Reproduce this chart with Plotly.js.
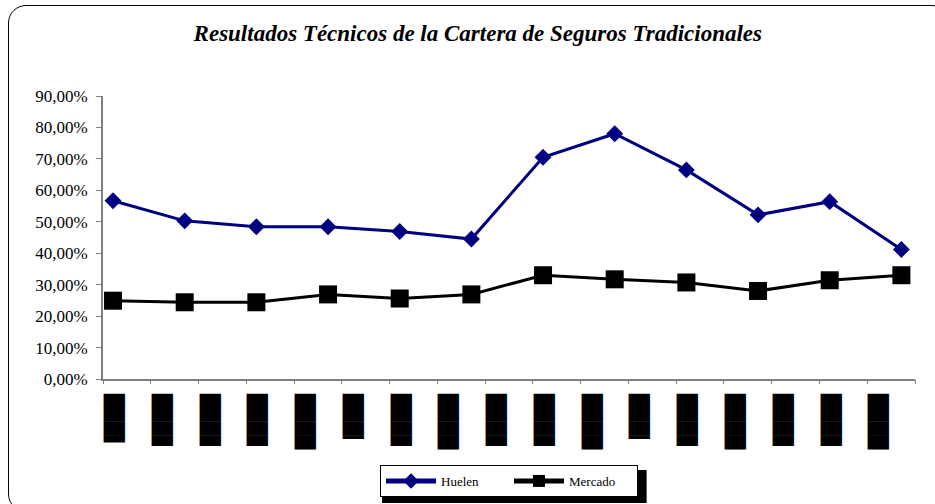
<!DOCTYPE html>
<html>
<head>
<meta charset="utf-8">
<script src="https://cdn.plot.ly/plotly-3.0.1.min.js"></script>
<style>
html,body{margin:0;padding:0;width:935px;height:504px;overflow:hidden;background:#fff;}
#chart{position:absolute;left:0;top:0;width:935px;height:504px;}
#frame{position:absolute;left:8px;top:5px;width:940px;height:505px;border:1px solid #000;border-radius:18px;pointer-events:none;z-index:5;}
</style>
</head>
<body>
<div id="chart"></div>
<div id="frame"></div>
<script>
// Data (percent)
const periods = ['1','2','3','4','5','6','7','8','9','10','11','12'];
const huelen  = [56.7, 50.3, 48.4, 48.4, 46.9, 44.5, 70.5, 78.0, 66.5, 52.2, 56.4, 41.2];
const mercado = [24.9, 24.4, 24.4, 26.9, 25.6, 26.9, 33.0, 31.7, 30.7, 28.0, 31.4, 33.0];
// Redacted (black-box) axis labels
const labelIds = ['c1','c2','c3','c4','c5','c6','c7','c8','c9','c10','c11','c12','c13','c14','c15','c16','c17'];
const boxLabels = ['███▌','███▊','███▊','███▊','████','███▎','███▊','████','███▊','███▊','████','███▎','███▊','████','███▊','███▊','████'];
const yTicks = [0,10,20,30,40,50,60,70,80,90];
const yTickText = yTicks.map(v => v.toFixed(2).replace('.', ',') + '%');

const traces = [
  {x: periods, y: huelen, name: 'Huelen', type: 'scatter', mode: 'lines+markers',
   line: {color: '#000080', width: 3}, marker: {symbol: 'diamond', size: 13, color: '#000080'},
   xaxis: 'x', yaxis: 'y'},
  {x: periods, y: mercado, name: 'Mercado', type: 'scatter', mode: 'lines+markers',
   line: {color: '#000000', width: 3}, marker: {symbol: 'square', size: 18, color: '#000000'},
   xaxis: 'x', yaxis: 'y'},
  {x: labelIds, y: labelIds.map(() => null), type: 'scatter', mode: 'markers',
   showlegend: false, hoverinfo: 'skip', xaxis: 'x2', yaxis: 'y'}
];

const layout = {
  width: 935, height: 504,
  paper_bgcolor: 'rgba(0,0,0,0)', plot_bgcolor: 'rgba(0,0,0,0)',
  margin: {l: 103, r: 20, t: 96, b: 125},
  showlegend: true,
  title: {text: 'Resultados Técnicos de la Cartera de Seguros Tradicionales',
          font: {family: 'Liberation Serif', size: 23, color: '#000', weight: 'bold', style: 'italic'},
          xref: 'container', x: 0.511, xanchor: 'center', yref: 'container', y: 0.935, yanchor: 'middle'},
  xaxis: {type: 'category', range: [-0.14, 11.19], showticklabels: false, ticks: '', automargin: false,
          showline: true, linecolor: '#808080', linewidth: 2, showgrid: false, zeroline: false, fixedrange: true},
  xaxis2: {type: 'category', overlaying: 'x', anchor: 'y', side: 'bottom', range: [-0.5, 16.5], automargin: false,
           tickmode: 'array', tickvals: labelIds, ticktext: boxLabels, tickson: 'boundaries',
           ticks: 'outside', ticklen: 4, tickcolor: '#808080', tickwidth: 1,
           tickangle: 90, ticklabelshift: -13, ticklabelstandoff: 14,
           tickfont: {family: 'DejaVu Sans', size: 18, color: '#000'},
           showline: false, showgrid: false, zeroline: false},
  yaxis: {range: [0, 90], tickmode: 'array', tickvals: yTicks, ticktext: yTickText, automargin: false,
          ticks: 'outside', ticklen: 5, tickcolor: '#808080', tickwidth: 1, ticklabelstandoff: 5,
          showline: true, linecolor: '#808080', linewidth: 2, showgrid: false, zeroline: false,
          tickfont: {family: 'Liberation Serif', size: 17, color: '#000'}},
  legend: {orientation: 'h', x: 0.5, xanchor: 'center', yref: 'container', y: 0.0774, yanchor: 'top',
           bgcolor: '#fff', bordercolor: '#000', borderwidth: 1, entrywidth: 63, itemwidth: 50,
           itemsizing: 'constant', tracegroupgap: 0,
           font: {family: 'Liberation Serif', size: 13, color: '#000'}},
  shapes: [{type: 'rect', xref: 'paper', yref: 'paper', x0: 0.3436, x1: 0.6695, y0: -0.3216, y1: -0.438,
            fillcolor: '#000', line: {width: 0}, layer: 'above'}]
};

Plotly.newPlot('chart', traces, layout, {staticPlot: true});
</script>
</body>
</html>
